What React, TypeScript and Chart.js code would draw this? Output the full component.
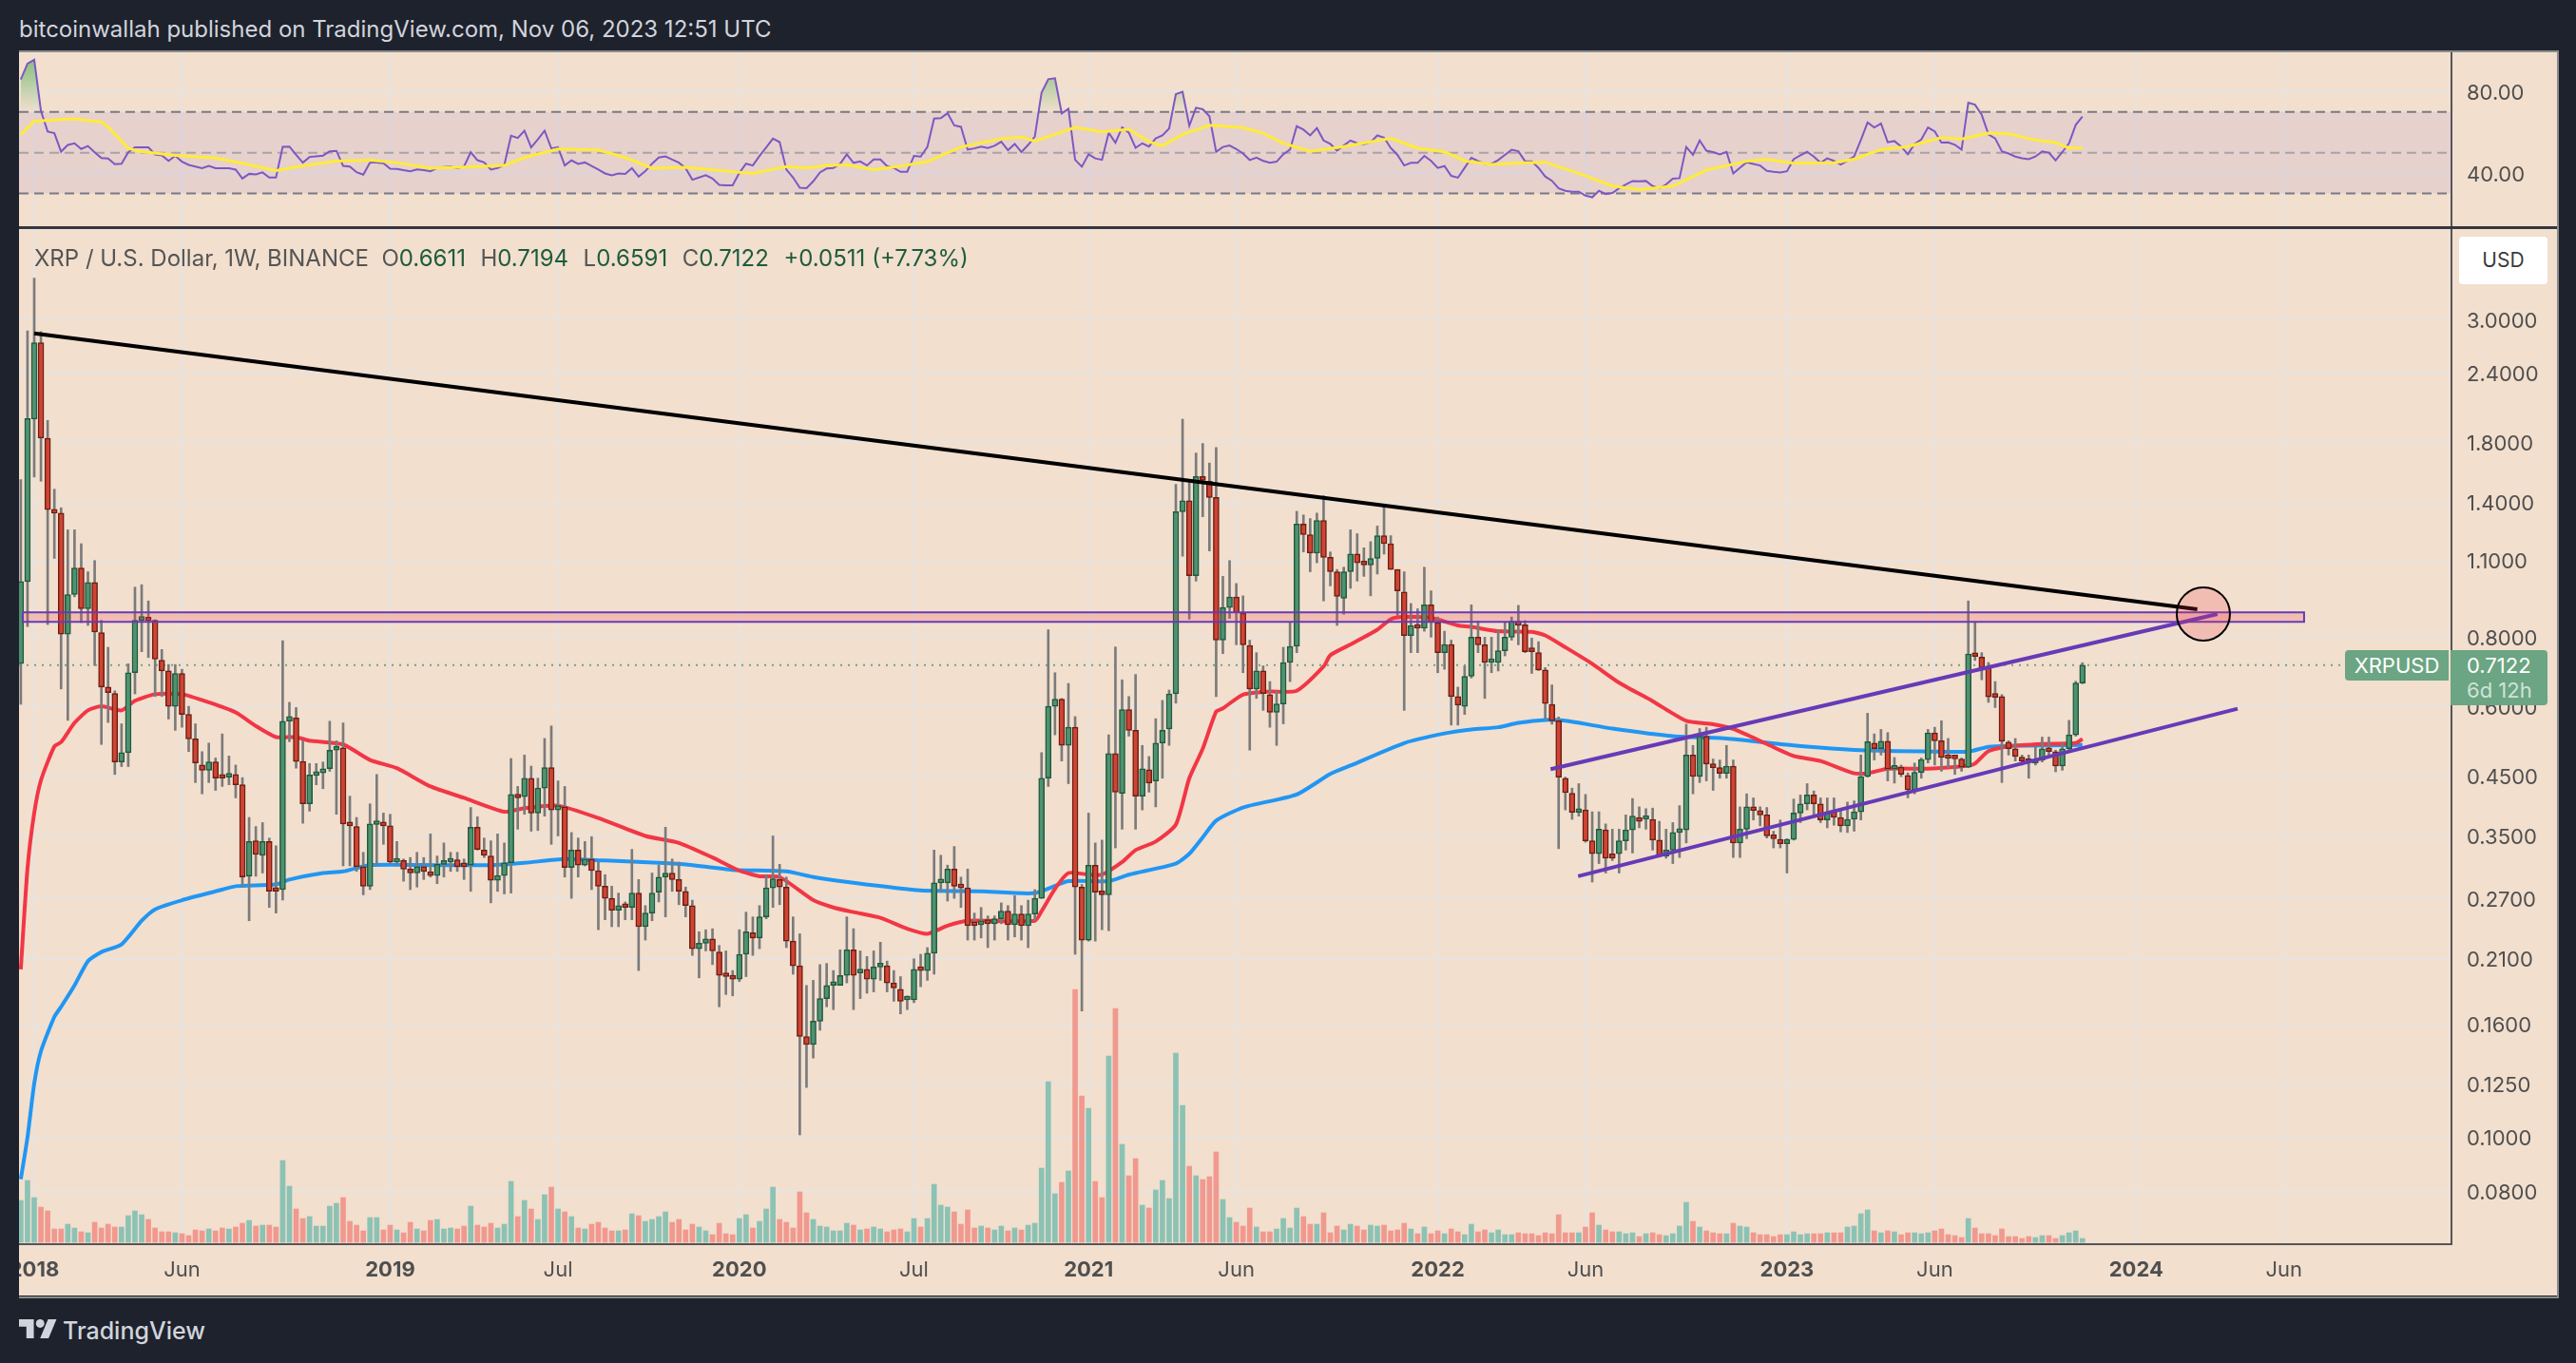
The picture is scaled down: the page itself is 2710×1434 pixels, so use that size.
// App.tsx
import { useEffect, useRef } from 'react';
import { Chart, registerables } from 'chart.js';

Chart.register(...registerables);

// Weekly candles, the first one sits two weeks before 2018-01-01 (week 0)
const firstWeek = -2;

const opens = [
    .717, 1.008, 1.98, 2.72, 1.83, 1.36, 1.34, .81, .955, 1.066,
    .90, 1.004, .815, .65, .633, .476, .495, .69, .858, .862,
    .858, .727, .695, .60, .688, .58, .524, .47, .46, .476,
    .447, .447, .452, .433, .296, .343, .323, .342, .28, .28,
    .564, .572, .477, .40, .45, .455, .463, .50, .505, .368,
    .364, .308, .284, .367, .368, .365, .314, .316, .305, .30,
    .308, .30, .297, .311, .314, .317, .31, .31, .363, .33,
    .322, .291, .297, .313, .416, .412, .445, .385, .427, .465,
    .39, .395, .307, .33, .31, .318, .303, .284, .27, .257,
    .262, .26, .276, .24, .254, .277, .295, .30, .292, .278,
    .262, .219, .224, .228, .216, .197, .196, .193, .214, .234,
    .229, .25, .282, .292, .283, .226, .204, .152, .147, .162,
    .178, .188, .188, .196, .218, .198, .201, .193, .203, .204,
    .19, .185, .177, .177, .201, .2, .215, .288, .288, .305,
    .285, .282, .242, .242, .247, .243, .248, .256, .242, .253,
    .241, .253, .27, .445, .6, .618, .51, .55, .283, .227,
    .31, .276, .274, .493, .418, .592, .543, .413, .461, .44,
    .515, .546, .632, 1.348, 1.41, 1.033, 1.56, 1.53, 1.43, .79,
    .905, .945, .884, .773, .645, .695, .63, .585, .606, .72,
    .77, 1.28, 1.225, 1.135, 1.3, 1.115, 1.05, .94, 1.05, 1.13,
    1.09, 1.08, 1.11, 1.22, 1.18, 1.06, .965, .805, .84, .83,
    .915, .85, .75, .776, .625, .60, .68, .80, .775, .72,
    .72, .756, .80, .855, .842, .755, .75, .698, .605, .565,
    .445, .418, .386, .39, .343, .325, .359, .325, .325, .343,
    .359, .378, .375, .375, .344, .322, .33, .355, .359, .49,
    .448, .53, .472, .465, .454, .468, .34, .36, .395, .389,
    .382, .348, .345, .339, .345, .385, .40, .415, .40, .374,
    .387, .378, .365, .375, .387, .448, .515, .503, .519, .462,
    .466, .45, .424, .456, .481, .537, .52, .485, .49, .482,
    .466, .746, .736, .704, .625, .625, .517, .503, .485, .477,
    .474, .48, .504, .497, .468, .503, .533, .6611,
];

const highs = [
    1.54, 2.86, 3.56, 2.85, 1.97, 1.48, 1.37, 1.25, 1.25, 1.18,
    1.05, 1.10, .858, .767, .64, .558, .716, .985, .995, .93,
    .86, .76, .714, .714, .70, .60, .558, .497, .515, .484,
    .535, .488, .47, .446, .378, .364, .37, .347, .336, .788,
    .61, .597, .52, .473, .473, .476, .564, .52, .56, .413,
    .378, .327, .40, .452, .385, .383, .342, .318, .32, .327,
    .32, .353, .322, .34, .327, .327, .318, .394, .379, .347,
    .343, .353, .34, .483, .43, .49, .468, .445, .525, .553,
    .44, .43, .355, .347, .342, .349, .314, .298, .284, .276,
    .266, .331, .292, .262, .30, .31, .363, .318, .314, .283,
    .268, .235, .237, .238, .222, .217, .20, .237, .255, .25,
    .262, .298, .35, .311, .295, .25, .233, .188, .192, .205,
    .206, .20, .218, .25, .238, .217, .212, .217, .225, .208,
    .20, .195, .18, .21, .214, .22, .33, .323, .31, .335,
    .295, .305, .254, .26, .251, .251, .265, .262, .273, .262,
    .268, .28, .495, .825, .69, .62, .66, .575, .286, .385,
    .34, .344, .533, .768, .67, .625, .685, .51, .487, .57,
    .615, .642, 1.51, 1.98, 1.54, 1.72, 1.79, 1.65, 1.76, 1.03,
    1.1, 1.0, .95, .79, .75, .71, .665, .64, .767, .85,
    1.35, 1.33, 1.31, 1.34, 1.44, 1.14, 1.06, 1.07, 1.25, 1.23,
    1.16, 1.19, 1.27, 1.38, 1.22, 1.06, 1.05, .92, .9, 1.07,
    .97, .87, .82, .79, .65, .71, .915, .855, .80, .80,
    .825, .85, .87, .913, .857, .797, .785, .705, .656, .574,
    .447, .427, .435, .416, .387, .387, .368, .36, .36, .382,
    .409, .395, .392, .393, .372, .36, .37, .397, .557, .51,
    .547, .55, .482, .48, .51, .48, .395, .417, .41, .395,
    .394, .357, .374, .346, .408, .415, .435, .422, .41, .41,
    .41, .389, .403, .405, .49, .583, .535, .545, .538, .485,
    .47, .455, .474, .484, .545, .55, .565, .525, .49, .484,
    .93, .85, .75, .72, .665, .63, .52, .525, .49, .49,
    .506, .528, .528, .50, .515, .566, .666, .7194,
];

const lows = [
    .605, .836, 1.557, 1.53, .843, 1.11, .645, .566, .946, .85,
    .84, .711, .512, .561, .452, .467, .467, .632, .753, .735,
    .625, .625, .569, .543, .55, .497, .437, .417, .437, .423,
    .43, .433, .41, .284, .246, .296, .30, .26, .254, .268,
    .518, .464, .369, .388, .433, .426, .458, .383, .309, .309,
    .302, .274, .28, .31, .338, .312, .31, .29, .28, .283,
    .292, .295, .287, .295, .302, .302, .292, .278, .33, .32,
    .265, .278, .275, .276, .36, .383, .357, .358, .38, .338,
    .35, .295, .27, .295, .309, .28, .237, .247, .24, .24,
    .247, .247, .20, .227, .246, .266, .25, .278, .263, .25,
    .213, .194, .217, .205, .172, .181, .18, .191, .195, .213,
    .219, .248, .26, .263, .22, .197, .101, .123, .139, .156,
    .172, .17, .188, .19, .17, .178, .182, .183, .192, .183,
    .176, .167, .17, .175, .187, .192, .197, .277, .267, .27,
    .26, .227, .227, .229, .22, .227, .243, .227, .23, .227,
    .22, .246, .27, .43, .533, .478, .435, .214, .169, .226,
    .226, .237, .236, .333, .36, .53, .36, .39, .42, .395,
    .445, .51, .608, 1.12, .862, 1.01, 1.32, 1.145, .625, .747,
    .865, .775, .69, .5, .62, .59, .55, .51, .558, .665,
    .75, 1.14, 1.05, 1.09, .93, .99, .84, .88, .98, 1.01,
    1.03, .95, 1.04, 1.13, 1.06, .875, .59, .75, .75, .82,
    .8, .69, .70, .555, .555, .58, .675, .75, .62, .69,
    .695, .74, .79, .775, .75, .688, .696, .57, .557, .332,
    .39, .375, .38, .341, .289, .312, .30, .316, .30, .33,
    .326, .362, .36, .33, .321, .319, .312, .32, .34, .417,
    .437, .44, .423, .445, .445, .32, .32, .346, .374, .365,
    .347, .333, .333, .30, .344, .37, .39, .382, .37, .362,
    .366, .356, .355, .357, .374, .447, .48, .49, .44, .436,
    .448, .41, .417, .445, .474, .47, .458, .465, .452, .458,
    .465, .726, .67, .61, .597, .437, .49, .478, .47, .445,
    .47, .476, .487, .457, .46, .50, .53, .6591,
];

const closes = [
    1.008, 1.986, 2.72, 1.83, 1.36, 1.34, .81, .955, 1.066, .90,
    1.004, .817, .65, .635, .476, .495, .69, .858, .862, .856,
    .73, .695, .60, .688, .58, .524, .474, .46, .476, .445,
    .445, .452, .433, .295, .342, .324, .342, .278, .278, .564,
    .575, .477, .40, .451, .456, .463, .50, .505, .368, .365,
    .308, .284, .368, .368, .365, .314, .316, .305, .30, .308,
    .302, .297, .311, .313, .317, .308, .308, .363, .331, .323,
    .291, .297, .313, .416, .41, .445, .385, .427, .465, .39,
    .397, .307, .33, .31, .318, .303, .284, .27, .257, .262,
    .26, .276, .24, .254, .276, .295, .30, .292, .278, .262,
    .219, .224, .228, .217, .196, .195, .193, .214, .235, .229,
    .25, .282, .293, .283, .226, .204, .152, .147, .162, .178,
    .188, .189, .196, .218, .196, .201, .193, .203, .204, .19,
    .186, .176, .177, .201, .20, .215, .288, .288, .305, .284,
    .282, .241, .241, .245, .243, .248, .256, .242, .253, .241,
    .253, .27, .445, .60, .618, .51, .55, .283, .227, .31,
    .277, .274, .493, .42, .592, .543, .413, .463, .436, .515,
    .543, .632, 1.348, 1.41, 1.033, 1.56, 1.535, 1.43, .79, .905,
    .945, .885, .775, .645, .695, .633, .585, .606, .72, .77,
    1.28, 1.225, 1.135, 1.3, 1.115, 1.05, .948, 1.05, 1.13, 1.09,
    1.08, 1.11, 1.22, 1.18, 1.06, .97, .805, .84, .83, .915,
    .85, .75, .776, .625, .603, .68, .80, .775, .72, .72,
    .756, .80, .855, .84, .753, .753, .698, .607, .565, .447,
    .419, .386, .39, .343, .325, .36, .319, .319, .343, .359,
    .38, .372, .375, .344, .322, .33, .355, .36, .49, .448,
    .53, .472, .465, .454, .468, .34, .36, .395, .389, .382,
    .35, .346, .339, .345, .385, .40, .415, .40, .374, .386,
    .378, .365, .375, .387, .448, .518, .503, .519, .462, .466,
    .452, .424, .456, .481, .537, .52, .485, .483, .482, .466,
    .746, .738, .704, .624, .623, .519, .503, .487, .478, .475,
    .48, .503, .497, .468, .503, .533, .661, .7122,
];

// Volume, in an arbitrary unit as the picture has no volume axis
const volumes = [
    44, 65, 47, 37, 33, 14, 14, 19, 15, 11,
    10, 21, 15, 19, 16, 16, 28, 33, 29, 24,
    15, 11, 11, 10, 9, 7, 13, 12, 14, 12,
    15, 14, 16, 20, 23, 17, 18, 18, 16, 86,
    59, 35, 25, 27, 17, 17, 38, 41, 47, 22,
    18, 12, 26, 26, 13, 18, 13, 10, 21, 14,
    12, 23, 24, 14, 15, 14, 17, 38, 18, 16,
    20, 15, 19, 64, 27, 44, 35, 24, 50, 58,
    35, 32, 27, 15, 14, 19, 21, 15, 12, 12,
    13, 30, 28, 22, 24, 27, 32, 21, 24, 13,
    19, 16, 12, 8, 20, 9, 8, 25, 29, 15,
    22, 35, 58, 24, 21, 15, 53, 31, 24, 17,
    16, 12, 12, 20, 18, 13, 14, 16, 14, 11,
    13, 14, 11, 25, 16, 25, 61, 39, 37, 32,
    19, 34, 15, 17, 15, 13, 17, 12, 15, 13,
    18, 20, 78, 169, 51, 63, 75, 266, 154, 141,
    64, 47, 196, 246, 103, 70, 88, 39, 36, 55,
    65, 46, 199, 144, 80, 70, 66, 69, 95, 45,
    26, 21, 17, 36, 16, 11, 11, 14, 25, 15,
    36, 27, 19, 19, 31, 10, 17, 13, 19, 17,
    13, 18, 17, 18, 12, 13, 20, 14, 9, 16,
    9, 12, 9, 14, 11, 8, 19, 11, 13, 10,
    13, 8, 8, 10, 9, 9, 7, 10, 9, 29,
    10, 10, 10, 16, 31, 18, 13, 11, 11, 9,
    10, 6, 9, 10, 8, 7, 9, 17, 42, 22,
    16, 12, 10, 9, 9, 20, 17, 16, 10, 8,
    8, 6, 8, 8, 11, 8, 9, 9, 9, 10,
    10, 10, 16, 17, 30, 34, 12, 10, 12, 11,
    8, 10, 10, 9, 10, 12, 14, 8, 7, 5,
    25, 15, 9, 9, 7, 14, 6, 6, 4, 6,
    5, 7, 7, 4, 7, 10, 12, 4,
];

const rsiValues = [
    86, 93.8, 95.7, 70.5, 60.4, 59.6, 50.5, 53.8, 54.6, 51.8,
    53.3, 50.2, 47.4, 47.1, 44.3, 44.6, 50.2, 52.6, 52.6, 52.6,
    49.1, 48.7, 46, 48.4, 45.6, 44, 43.2, 42.4, 43.5, 42.4,
    42.4, 42.4, 41.7, 37.3, 39.6, 39.3, 40.3, 37.8, 37.8, 52.9,
    53, 49, 45.1, 47.9, 48.2, 48.5, 50.7, 50.9, 43.5, 43.2,
    40.4, 39.2, 45.2, 45.2, 44.8, 42.1, 42, 41.4, 40.9, 41.8,
    41.4, 40.9, 42.4, 42.9, 43.2, 42.4, 43.2, 50.2, 46.3, 45.2,
    41.7, 42.4, 44, 58.3, 57.2, 60.8, 52.6, 56.5, 60.8, 52.1,
    52.7, 43.7, 46.2, 44.5, 45.2, 43.5, 41.7, 39.8, 38.9, 39.8,
    39.6, 42.4, 38.2, 40.9, 44.6, 47.6, 48.2, 46.6, 45.1, 42.4,
    36.7, 37.8, 38.9, 37.3, 34.2, 34, 34, 40.1, 44.6, 43.7,
    48.4, 52.6, 56.9, 55.2, 41.7, 37.8, 32.8, 32.6, 35.9, 40.3,
    42.2, 42.5, 44.5, 49.2, 45, 45.7, 43.7, 46.7, 46.7, 43.4,
    42.5, 40.6, 40.6, 48.4, 48.1, 52.8, 66.8, 67, 69.4, 63.4,
    62.7, 51.5, 52.1, 53, 52.3, 53.4, 55.4, 51.2, 54.3, 50.3,
    53.8, 58, 79.5, 86.1, 86.6, 69.3, 71.5, 46.5, 43.1, 49.2,
    47.2, 46.5, 59.8, 54.9, 62.4, 59.8, 52.4, 54.6, 53, 57,
    58.5, 61.9, 78.8, 79.9, 63.2, 72.1, 71.3, 67.9, 50.4, 52.8,
    53.5, 51.8, 49.6, 46.4, 47.6, 46, 45.1, 45.6, 49.2, 51.5,
    63, 61.3, 58.5, 62.1, 56, 54.3, 51, 53.5, 56, 54.6,
    54.2, 55.1, 58.5, 57.4, 52.3, 48.9, 43.7, 45, 45, 48.4,
    46, 42.5, 43.4, 38.6, 37.7, 42.5, 47.5, 45.9, 44.5, 44.5,
    46.4, 48.9, 51.4, 50.7, 45.8, 45.8, 42.5, 38.3, 36.2, 32.5,
    31.3, 30.8, 30.8, 28.9, 28.1, 31.3, 29.7, 30.2, 32.5, 34.4,
    36.1, 35.9, 36.1, 33.6, 32.5, 34.4, 37.2, 37.5, 52.8, 48.9,
    56, 51, 50.3, 49.2, 50.4, 39.8, 42.6, 45.3, 44.5, 43.7,
    41.1, 40.6, 40.3, 40.9, 46.8, 48.7, 50.4, 48.1, 45, 47.2,
    46, 44.2, 46, 48.1, 56.2, 64.8, 62.4, 64.3, 55.1, 55.7,
    53, 49.2, 54.3, 56.5, 62.4, 60.5, 55, 55.1, 53.9, 51.5,
    74.6, 73.6, 68.6, 59, 57, 50.7, 49.6, 48.1, 47.3, 46.8,
    48.1, 50.6, 50, 46.2, 50.3, 54.6, 63.7, 67.7,
];

// Averages are read at the weeks where they bend: [week, value]
const rsiAverage = [
    [-2, 58.8], [0, 65.5], [3, 66.1], [6, 66.6], [10, 65], [11, 62.7], [14, 52.1], [16, 50.5], [21, 48.7],
    [27, 47.4], [31, 44.8], [36, 41.2], [40, 43.5], [45, 45.9], [50, 46.3], [54, 45.1], [59, 42.4], [64, 42.9],
    [70, 43.7], [73, 47.6], [78, 51.8], [84, 51.3], [88, 47.6], [92, 42.4], [97, 42.8], [103, 40.9], [107, 39.8],
    [112, 43.2], [115, 42.5], [118, 43.7], [121, 44], [125, 41.7], [129, 43.4], [133, 45.6], [138, 52.8],
    [144, 56.8], [147, 57.6], [149, 55.7], [155, 62.4], [159, 60.2], [163, 61.5], [166, 55.4], [168, 53.4],
    [171, 59], [175, 63.5], [180, 62.3], [183, 59.6], [186, 54.6], [190, 50.7], [195, 53], [202, 57], [206, 52.3],
    [210, 50.4], [213, 46], [217, 44.2], [222, 45], [225, 45.3], [231, 38.7], [235, 33.6], [239, 31.9], [244, 33.6],
    [249, 41.4], [255, 45.8], [258, 46.7], [262, 44.8], [268, 45], [271, 46.8], [275, 51.5], [279, 53], [284, 57.4],
    [287, 56.7], [291, 59.6], [294, 59.3], [298, 56.2], [301, 55], [303, 52.3], [305, 52.3],
];

const redAverage = [
    [-2, .201], [-1, .306], [0, .385], [1, .441], [3, .508], [4, .517], [6, .56], [8, .59], [10, .6], [13, .59],
    [15, .614], [18, .631], [22, .631], [26, .61], [30, .585], [33, .553], [36, .528], [39, .528], [41, .52],
    [46, .512], [50, .48], [54, .464], [59, .43], [64, .41], [70, .387], [73, .393], [78, .397], [84, .377],
    [91, .35], [96, .34], [101, .32], [105, .303], [108, .296], [111, .295], [116, .268], [119, .26], [122, .255],
    [126, .249], [130, .238], [133, .233], [136, .241], [139, .246], [149, .246], [150, .256], [152, .281],
    [154, .30], [157, .298], [159, .298], [162, .314], [164, .33], [167, .342], [170, .367], [172, .445],
    [174, .503], [176, .587], [177, .595], [180, .63], [184, .638], [188, .64], [192, .708], [193, .742],
    [196, .776], [200, .825], [202, .862], [204, .87], [208, .867], [212, .84], [214, .835], [218, .82],
    [223, .818], [225, .806], [228, .767], [232, .716], [236, .662], [241, .613], [246, .565], [250, .557],
    [253, .546], [258, .513], [262, .488], [266, .478], [271, .454], [273, .454], [276, .463], [282, .463],
    [288, .469], [289, .473], [291, .498], [294, .508], [299, .513], [304, .515], [305, .524],
];

const blueAverage = [
    [-2, .084], [-1, .10], [0, .125], [1, .143], [3, .165], [4, .172], [6, .188], [8, .208], [10, .216], [13, .223],
    [16, .246], [18, .258], [22, .268], [27, .278], [30, .284], [36, .286], [38, .292], [43, .30], [46, .302],
    [50, .31], [60, .31], [68, .31], [73, .313], [79, .318], [85, .316], [93, .313], [97, .311], [104, .304],
    [112, .302], [116, .295], [122, .288], [132, .279], [141, .278], [149, .276], [154, .29], [160, .29],
    [163, .298], [170, .312], [172, .325], [174, .348], [176, .373], [180, .394], [188, .416], [193, .453],
    [196, .469], [204, .515], [210, .536], [214, .545], [218, .55], [221, .56], [225, .567], [228, .565],
    [235, .547], [244, .53], [252, .525], [262, .51], [272, .50], [283, .497], [288, .497], [291, .507],
    [294, .509], [300, .51], [305, .511],
];

// Drawings on the chart: [week, price]
const blackTrend = [[0, 2.83], [322.1, .8986]];
const upperChannel = [[225.8, .462], [325.1, .881]];
const lowerChannel = [[229.9, .296], [328.1, .594]];
const zoneWeeks = [-1.7, 338];
const zonePrices = [.8526, .887];
const circleSpot = [323, .881];

const lastClose = .7122;
const lastLineEnd = 344;

const priceTicks = [3, 2.4, 1.8, 1.4, 1.1, .8, .6, .45, .35, .27, .21, .16, .125, .1, .08];
const rsiTicks = [40, 80];
const rsiLevels = [70, 50, 30];
const timeTickWeeks = [0, 22, 53, 78, 105, 131, 157, 179, 209, 231, 261, 283, 313, 335];
const timeTickLabels = ['2018', 'Jun', '2019', 'Jul', '2020', 'Jul', '2021', 'Jun', '2022', 'Jun', '2023', 'Jun', '2024', 'Jun'];

const xMin = -2.265;
const xMax = 359.95;

const fontFamily = 'Inter, "Noto Sans", sans-serif';
const axisWidth = 111;
const gridColor = '#e7e3df';
const axisLineColor = '#55555a';
const textColor = '#4f4f4f';

const toPoints = (rows: number[][]) => rows.map(([x, y]) => ({ x, y }));

// Label overhang must not shrink the plot, the panes line up with the page
const noPadding = (scale: any) => {
    scale.paddingLeft = 0;
    scale.paddingRight = 0;
    scale.paddingTop = 0;
    scale.paddingBottom = 0;
};

const xScale = (height: number, extra: any) => ({
    type: 'linear',
    min: xMin,
    max: xMax,
    offset: false,
    afterBuildTicks: (scale: any) => {
        scale.ticks = timeTickWeeks.map((value) => ({ value }));
    },
    afterFit: (scale: any) => {
        scale.height = height;
        noPadding(scale);
    },
    ...extra,
});

const yFit = (scale: any) => {
    scale.width = axisWidth;
    noPadding(scale);
};

const lineStyle = (color: string, width: number, order: number) => ({
    type: 'line',
    borderColor: color,
    borderWidth: width,
    pointRadius: 0,
    fill: false,
    order,
});

const App = () => {
    const rsiRef = useRef<HTMLCanvasElement | null>(null);
    const priceRef = useRef<HTMLCanvasElement | null>(null);

    useEffect(() => {
        if (!rsiRef.current || !priceRef.current) return;

        const weeks = opens.map((_, i) => i + firstWeek);
        const isUp = opens.map((open, i) => closes[i] >= open);

        const rsiGradient = rsiRef.current.getContext('2d')!.createLinearGradient(0, 0, 0, 64);
        rsiGradient.addColorStop(0, 'rgba(76, 175, 80, 0.75)');
        rsiGradient.addColorStop(1, 'rgba(76, 175, 80, 0)');

        const rsiChart = new Chart(rsiRef.current, {
            type: 'line',
            data: {
                datasets: [
                    ...rsiLevels.map((level, i) => ({
                        ...lineStyle(i === 1 ? 'rgba(120, 123, 134, 0.55)' : '#787b86', 2, 20),
                        data: [{ x: xMin, y: level }, { x: xMax, y: level }],
                        borderDash: [10, 6],
                        // the band is filled from the 30 line up to the 70 line
                        fill: i === 2 ? { target: 0 } : false,
                        backgroundColor: 'rgba(126, 87, 194, 0.1)',
                    })),
                    {
                        ...lineStyle('#7e57c2', 2, 2),
                        data: weeks.map((x, i) => ({ x, y: rsiValues[i] })),
                        fill: { target: { value: 70 }, above: rsiGradient, below: 'transparent' },
                    },
                    {
                        ...lineStyle('#ffeb3b', 3, 1),
                        data: toPoints(rsiAverage),
                    },
                ] as any,
            },
            options: {
                animation: false,
                responsive: false,
                devicePixelRatio: 1,
                events: [],
                layout: { autoPadding: false, padding: 0 },
                plugins: { legend: { display: false }, tooltip: { enabled: false } },
                scales: {
                    x: xScale(0, {
                        grid: { color: gridColor, lineWidth: 2, drawTicks: false },
                        border: { display: false },
                        ticks: { display: false },
                    }),
                    y: {
                        type: 'linear',
                        position: 'right',
                        min: 13.4,
                        max: 99.8,
                        afterBuildTicks: (scale: any) => {
                            scale.ticks = rsiTicks.map((value) => ({ value }));
                        },
                        afterFit: yFit,
                        grid: { color: gridColor, lineWidth: 2, drawTicks: false },
                        border: { color: axisLineColor, width: 2 },
                        ticks: {
                            padding: 16,
                            labelOffset: 2,
                            color: textColor,
                            font: { family: fontFamily, size: 22 },
                            callback: (value: any) => Number(value).toFixed(2),
                        },
                    },
                },
            } as any,
        });

        const priceChart = new Chart(priceRef.current, {
            type: 'bar',
            data: {
                datasets: [
                    {
                        ...lineStyle('#000000', 2, 1),
                        data: [{ x: circleSpot[0], y: circleSpot[1] }],
                        showLine: false,
                        pointRadius: 28,
                        pointBorderWidth: 2,
                        pointBorderColor: '#000000',
                        pointBackgroundColor: 'rgba(242, 54, 69, 0.2)',
                    },
                    { ...lineStyle('#000000', 4, 2), data: toPoints(blackTrend) },
                    { ...lineStyle('#673ab7', 4, 3), data: toPoints(upperChannel) },
                    { ...lineStyle('#673ab7', 4, 3), data: toPoints(lowerChannel) },
                    {
                        ...lineStyle('#673ab7', 2, 4),
                        data: [
                            { x: zoneWeeks[0], y: zonePrices[1] },
                            { x: zoneWeeks[1], y: zonePrices[1] },
                            { x: zoneWeeks[1], y: zonePrices[0] },
                            { x: zoneWeeks[0], y: zonePrices[0] },
                            { x: zoneWeeks[0], y: zonePrices[1] },
                        ],
                        fill: 'shape',
                        backgroundColor: 'rgba(242, 54, 69, 0.2)',
                    },
                    {
                        type: 'bar',
                        data: weeks.map((x, i) => ({ x, y: [opens[i], closes[i]] })),
                        backgroundColor: isUp.map((up) => (up ? '#4f9272' : '#cf4433')),
                        borderColor: isUp.map((up) => (up ? '#1f5b3c' : '#6e1e14')),
                        borderWidth: 1.5,
                        borderSkipped: false,
                        barThickness: 6,
                        minBarLength: 4,
                        grouped: false,
                        order: 10,
                    },
                    {
                        type: 'bar',
                        data: weeks.map((x, i) => ({ x, y: [lows[i], highs[i]] })),
                        backgroundColor: '#7b7b7b',
                        barThickness: 2,
                        grouped: false,
                        order: 11,
                    },
                    { ...lineStyle('#f23645', 4, 20), data: toPoints(redAverage), tension: 0.2 },
                    { ...lineStyle('#2196f3', 4, 21), data: toPoints(blueAverage), tension: 0.2 },
                    {
                        ...lineStyle('#6ba583', 2, 22),
                        data: [{ x: xMin, y: lastClose }, { x: lastLineEnd, y: lastClose }],
                        borderDash: [2, 6],
                    },
                    {
                        type: 'bar',
                        yAxisID: 'yVolume',
                        data: weeks.map((x, i) => ({ x, y: volumes[i] })),
                        backgroundColor: isUp.map((up) => (up ? 'rgba(38, 166, 154, 0.5)' : 'rgba(239, 83, 80, 0.5)')),
                        barThickness: 5,
                        grouped: false,
                        order: 30,
                    },
                ] as any,
            },
            options: {
                animation: false,
                responsive: false,
                devicePixelRatio: 1,
                events: [],
                layout: { autoPadding: false, padding: 0 },
                plugins: { legend: { display: false }, tooltip: { enabled: false } },
                scales: {
                    x: xScale(54, {
                        grid: { color: gridColor, lineWidth: 2, drawTicks: false, offset: false },
                        border: { color: axisLineColor, width: 2 },
                        ticks: {
                            autoSkip: false,
                            maxRotation: 0,
                            padding: 14,
                            color: textColor,
                            font: (ctx: any) => ({
                                family: fontFamily,
                                size: 22,
                                weight: /^\d/.test(timeTickLabels[ctx.index] ?? '') ? 'bold' : 'normal',
                            }),
                            callback: (_: any, i: number) => timeTickLabels[i],
                        },
                    }),
                    y: {
                        type: 'logarithmic',
                        position: 'right',
                        min: .0641,
                        max: 4.4,
                        afterBuildTicks: (scale: any) => {
                            scale.ticks = priceTicks.map((value) => ({ value }));
                        },
                        afterFit: yFit,
                        grid: { color: gridColor, lineWidth: 2, drawTicks: false },
                        border: { color: axisLineColor, width: 2 },
                        ticks: {
                            padding: 16,
                            labelOffset: 2,
                            autoSkip: false,
                            color: textColor,
                            font: { family: fontFamily, size: 22 },
                            callback: (value: any) => Number(value).toFixed(4),
                        },
                    },
                    yVolume: {
                        type: 'linear',
                        display: false,
                        min: -2,
                        max: 1068,
                    },
                },
            } as any,
        });

        return () => {
            rsiChart.destroy();
            priceChart.destroy();
        };
    }, []);

    const at = (left: number, top: number, extra: any = {}) => ({
        position: 'absolute' as const,
        left,
        top,
        whiteSpace: 'pre' as const,
        fontFamily,
        ...extra,
    });
    const valueColor = '#1f5b3c';
    const legendGap = { marginLeft: 2 };

    return (
        <div style={{ position: 'fixed', left: 0, top: 0, width: 2710, height: 1434, background: '#1e222d', overflow: 'hidden' }}>
            <div style={at(20, 14, { fontSize: 24, lineHeight: '34px', color: '#d1d4dc' })}>
                bitcoinwallah published on TradingView.com, Nov 06, 2023 12:51 UTC
            </div>

            <div style={{ position: 'absolute', left: 20, top: 54, width: 2670, height: 1309, background: '#f2dfce' }}>
                <canvas ref={rsiRef} width={2670} height={185} style={{ position: 'absolute', left: 0, top: 0 }} />
                <canvas ref={priceRef} width={2670} height={1124} style={{ position: 'absolute', left: 0, top: 185 }} />
            </div>

            {/* pane frame and the line between the panes */}
            <div style={{ position: 'absolute', left: 20, top: 53, width: 2670, height: 1309, borderTop: '2px solid #8b8b8b', borderBottom: '2px solid #8b8b8b', borderRight: '2px solid #8b8b8b' }} />
            <div style={{ position: 'absolute', left: 20, top: 238, width: 2670, height: 3, background: '#34373f' }} />

            <div style={at(36, 255, { fontSize: 24, lineHeight: '34px', color: '#555555' })}>
                XRP / U.S. Dollar, 1W, BINANCE{'  '}
                O<span style={{ color: valueColor }}>0.6611</span>{'  '}
                <span style={legendGap}>H</span><span style={{ color: valueColor }}>0.7194</span>{'  '}
                <span style={legendGap}>L</span><span style={{ color: valueColor }}>0.6591</span>{'  '}
                <span style={legendGap}>C</span><span style={{ color: valueColor }}>0.7122</span>{'  '}
                <span style={{ color: valueColor, ...legendGap }}>+0.0511 (+7.73%)</span>
            </div>

            <div style={at(2587, 249, { width: 93, height: 50, background: '#ffffff', borderRadius: 4, color: '#3a3a3a', fontSize: 21, lineHeight: '50px', textAlign: 'center' })}>USD</div>

            <div style={at(2467, 684, { width: 109, height: 32, background: '#6ba583', borderRadius: '4px 0 0 4px', color: '#ffffff', fontSize: 22, lineHeight: '32px', textAlign: 'center' })}>XRPUSD</div>
            <div style={at(2578, 684, { width: 102, height: 58, background: '#6ba583', borderRadius: '0 4px 4px 0', color: '#ffffff', fontSize: 22, lineHeight: '26px', paddingTop: 3, paddingLeft: 17, boxSizing: 'border-box' })}>
                0.7122
                <div style={{ color: 'rgba(255, 255, 255, 0.7)' }}>6d 12h</div>
            </div>

            <svg viewBox="0 4 36 18" width={40} height={20} style={{ position: 'absolute', left: 20, top: 1388 }}>
                <path fill="#d1d4dc" d="M14 22H7V11H0V4h14v18zM28 22h-8l7.5-18h8L28 22z" />
                <circle fill="#d1d4dc" cx="20" cy="8" r="4" />
            </svg>
            <div style={at(66, 1382, { fontSize: 25, fontWeight: 500, lineHeight: '36px', color: '#d1d4dc' })}>TradingView</div>
        </div>
    );
};

export default App;
